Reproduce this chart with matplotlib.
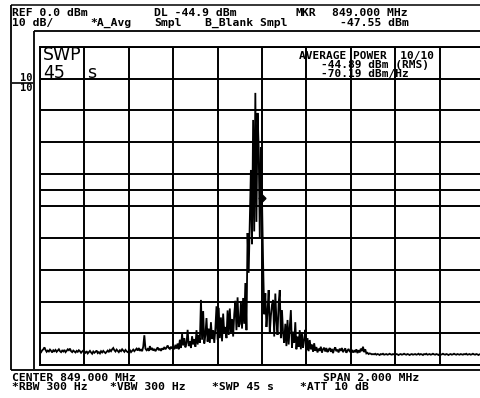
import numpy as np
import matplotlib
matplotlib.use("Agg")
import matplotlib.pyplot as plt

# ---- instrument settings ----
center_mhz = 849.0
span_mhz = 2.0
ref_level_dbm = 0.0
db_per_div = 10.0
n_div = 10
display_line_dbm = -44.9
marker_mhz = 849.0
marker_dbm = -47.55

# ---- trace (dBm), 401 sweep points ----
trace_left = [
    -95.6, -95.9, -95.3, -95.0, -94.4, -95.2, -95.8, -95.4, -95.7, -95.1, -95.5, -96.0, -95.3, -95.6, -95.2, -95.8, -95.4, -95.0, -95.6, -95.9,
    -95.4, -95.7, -95.2, -95.9, -95.5, -95.0, -95.3, -94.8, -95.6, -95.9, -95.4, -95.7, -96.0, -95.5, -95.8, -95.3, -95.6, -96.1, -95.7, -95.4,
    -95.8, -96.1, -95.6, -96.3, -95.9, -95.5, -96.0, -96.4, -95.7, -96.1, -95.8, -95.4, -96.2, -95.9, -96.3, -95.6, -96.0, -95.5, -95.9, -96.2,
    -95.8, -95.4, -95.9, -95.2, -95.6, -95.0, -94.6, -95.3, -95.7, -95.1, -95.5, -95.9, -95.3, -95.6, -95.0, -95.4, -95.8, -95.2, -95.6, -95.9,
    -95.7, -95.3, -95.9, -95.5, -95.1, -95.6, -95.2, -94.8, -95.4, -94.6, -95.5, -95.0, -95.6, -94.2, -90.6, -94.8, -95.3, -94.9, -95.5, -94.0,
    -95.2, -94.6, -95.4, -94.9, -95.6, -95.0, -94.4, -95.3, -94.8, -95.5, -94.7, -95.1, -94.3, -95.0, -94.5, -93.8, -94.6, -94.9, -94.2, -94.8,
]
trace_signal = [
    -94.3, -95.0, -93.6, -94.8, -93.2, -95.0, -92.0, -94.6, -90.2, -93.8, -91.5, -94.4, -93.0, -88.9, -94.0, -92.5, -94.6, -90.9, -93.5, -91.8,
    -94.2, -89.0, -93.5, -90.5, -93.0, -79.5, -92.0, -83.0, -93.2, -90.5, -85.2, -92.6, -88.5, -93.0, -86.5, -91.8, -89.0, -93.0, -88.4, -81.5,
    -92.0, -82.0, -91.5, -85.0, -92.5, -83.8, -90.0, -88.0, -91.5, -82.8, -90.5, -82.2, -89.5, -85.5, -91.0, -84.0, -79.8, -89.0, -78.7, -88.0,
    -87.0, -80.0, -88.5, -78.9, -87.0, -74.2, -89.0, -58.5, -71.0, -54.4, -38.7, -62.0, -23.0, -58.0, -14.5, -55.0, -20.8, -31.5, -60.0, -31.5,
    -47.55, -68.0, -84.0, -77.4, -88.0, -83.0, -76.4, -90.0, -84.5, -81.0, -79.5, -91.0, -77.5, -86.0, -90.5, -80.5, -76.4, -91.5, -82.7, -90.0,
    -93.0, -87.0, -94.0, -85.8, -93.5, -88.0, -82.7, -94.5, -89.5, -93.0, -86.5, -95.0, -91.0, -94.2, -89.0, -95.0, -90.0, -94.5, -92.0, -88.9,
    -95.3, -91.5, -95.6, -92.1, -95.0, -93.5, -95.8, -93.1, -95.5, -94.3, -96.0, -94.8, -95.5, -94.2, -96.0, -95.0, -94.5, -95.7, -94.6, -95.9,
]
trace_right = [
    -95.2, -94.6, -95.8, -94.9, -96.2, -95.0, -94.4, -95.6, -95.1, -96.0, -94.8, -95.5, -94.6, -95.9, -95.3, -94.7, -96.1, -95.4, -94.9, -95.7,
    -95.8, -95.2, -96.0, -95.5, -95.9, -95.0, -96.2, -95.3, -96.0, -94.8, -95.6, -94.2, -95.9, -95.0, -96.3, -96.1, -96.5, -96.3, -96.4, -96.6,
    -96.5, -96.6, -96.4, -96.7, -96.5, -96.6, -96.8, -96.5, -96.6, -96.4, -96.7, -96.6, -96.5, -96.7, -96.6, -96.4, -96.6, -96.7, -96.5, -96.6,
    -96.7, -96.5, -96.6, -96.8, -96.6, -96.5, -96.7, -96.6, -96.4, -96.6, -96.7, -96.5, -96.6, -96.8, -96.6, -96.5, -96.7, -96.6, -96.5, -96.7,
    -96.6, -96.4, -96.7, -96.5, -96.6, -96.8, -96.5, -96.6, -96.4, -96.7, -96.6, -96.5, -96.7, -96.6, -96.4, -96.6, -96.7, -96.5, -96.6, -96.8,
    -96.5, -96.7, -96.6, -96.4, -96.6, -96.7, -96.5, -96.6, -96.8, -96.6, -96.5, -96.7, -96.6, -96.4, -96.6, -96.7, -96.5, -96.6, -96.7, -96.5,
    -96.6, -96.7, -96.5, -96.6, -96.4, -96.7, -96.6, -96.5, -96.7, -96.6, -96.4, -96.6, -96.7, -96.5, -96.6, -96.8, -96.6, -96.5, -96.7, -96.6,
    -96.6,
]

levels = np.array(trace_left + trace_signal + trace_right)
f_lo = center_mhz - span_mhz / 2
f_hi = center_mhz + span_mhz / 2
freq = np.linspace(f_lo, f_hi, len(levels))
bottom_dbm = ref_level_dbm - db_per_div * n_div

W, H = 480, 398
fig = plt.figure(figsize=(W / 100, H / 100), dpi=100)
fig.patch.set_facecolor("white")

# graticule axes (pixel box)
gx0, gx1, gy0, gy1 = 40, 484, 46.7, 365.2
ax = fig.add_axes([gx0 / W, 1 - gy1 / H, (gx1 - gx0) / W, (gy1 - gy0) / H], zorder=2)
ax.set_xlim(f_lo, f_hi)
ax.set_ylim(bottom_dbm, ref_level_dbm)
ax.set_xticks(np.linspace(f_lo, f_hi, n_div + 1))
ax.set_yticks(np.linspace(bottom_dbm, ref_level_dbm, n_div + 1))
ax.tick_params(length=0, labelbottom=False, labelleft=False)
ax.grid(True, color="black", lw=1.4)
for s in ax.spines.values():
    s.set_linewidth(1.4)
    s.set_color("black")
ax.axhline(display_line_dbm, color="black", lw=1.4)
ax.plot(freq, levels, color="black", lw=1.3, solid_joinstyle="miter")
ax.plot([marker_mhz], [marker_dbm], marker="D", ms=3.5, color="black", mec="black")

# overlay in pixel coordinates
ov = fig.add_axes([0, 0, 1, 1], zorder=3)
ov.set_xlim(0, W)
ov.set_ylim(H, 0)
ov.axis("off")
ov.patch.set_alpha(0)

def ln(x0, y0, x1, y1, lw=1.3):
    ov.plot([x0, x1], [y0, y1], color="black", lw=lw, solid_capstyle="butt")

ln(11, 5, 480, 5, 1.1)
ln(11, 5, 11, 370, 1.3)
ln(34, 31, 480, 31, 1.3)
ln(34, 31, 34, 369, 1.3)
ln(11, 369.5, 480, 369.5, 1.3)
ln(12, 82.5, 33, 82.5, 1.2)

def t(x, y, s, size=8.2, fam="DejaVu Sans Mono", weight="bold"):
    ov.text(x, y, s, fontsize=size, family=fam, fontweight=weight,
            va="baseline", ha="left", color="black")

t(12, 16.5, "REF 0.0 dBm")
t(154, 16.5, "DL -44.9 dBm")
t(296, 16.5, "MKR")
t(332, 16.5, "849.000 MHz")
t(12, 26, "10 dB/")
t(90, 26, "*A_Avg")
t(154, 26, "Smpl")
t(205, 26, "B_Blank Smpl")
t(340, 26, "-47.55 dBm")

t(12, 381, "CENTER 849.000 MHz")
t(323, 381, "SPAN 2.000 MHz")
t(12, 389.5, "*RBW 300 Hz")
t(110, 389.5, "*VBW 300 Hz")
t(212, 389.5, "*SWP 45 s")
t(300, 389.5, "*ATT 10 dB")

t(299, 58.5, "AVERAGE POWER  10/10", size=8.0)
t(321, 68, "-44.89 dBm (RMS)", size=8.0)
t(321, 77.5, "-70.19 dBm/Hz", size=8.0)

t(20, 81, "10", size=7.5)
t(20, 91, "10", size=7.5)

t(43, 60, "SWP", size=12.5, fam="DejaVu Sans", weight="normal")
t(43, 77.5, "45", size=12.5, fam="DejaVu Sans", weight="normal")
t(87, 77.5, "s", size=12.5, fam="DejaVu Sans", weight="normal")

fig.savefig("out.png", dpi=100, facecolor="white")
